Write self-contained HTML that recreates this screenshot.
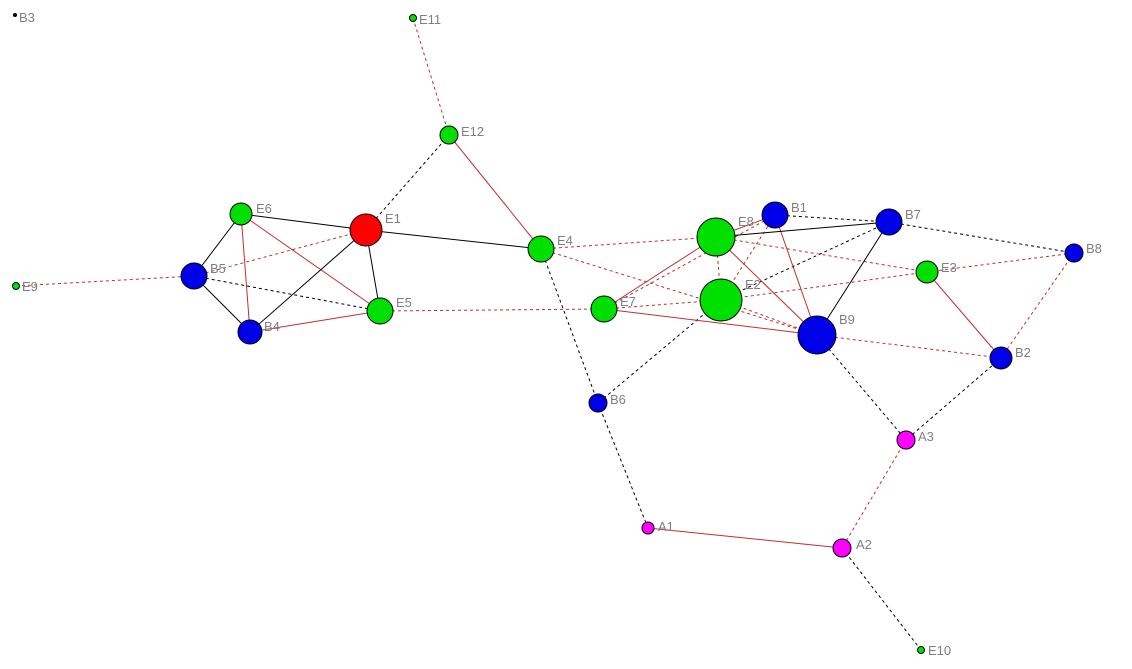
<!DOCTYPE html>
<html><head><meta charset="utf-8"><style>
html,body{margin:0;padding:0;background:#fff;width:1132px;height:669px;overflow:hidden}
text{font-family:"Liberation Sans",sans-serif;font-size:13px;fill:#808080}
</style></head><body>
<svg width="1132" height="669" xmlns="http://www.w3.org/2000/svg">
<g fill="none" stroke-width="1">
<!-- red dashed -->
<g stroke="#c03030" stroke-dasharray="3,3">
<line x1="413" y1="18" x2="449" y2="135"/>
<line x1="194" y1="276" x2="366" y2="230"/>
<line x1="16" y1="286" x2="194" y2="276"/>
<line x1="380" y1="311" x2="604" y2="309"/>
<line x1="541" y1="249" x2="716" y2="237"/>
<line x1="541" y1="249" x2="817" y2="335"/>
<line x1="604" y1="309" x2="775" y2="215"/>
<line x1="604" y1="309" x2="721" y2="300"/>
<line x1="716" y1="237" x2="721" y2="300"/>
<line x1="716" y1="237" x2="927" y2="272"/>
<line x1="721" y1="300" x2="927" y2="272"/>
<line x1="721" y1="300" x2="775" y2="215"/>
<line x1="721" y1="300" x2="817" y2="335"/>
<line x1="927" y1="272" x2="1074" y2="253"/>
<line x1="1074" y1="253" x2="1001" y2="358"/>
<line x1="817" y1="335" x2="1001" y2="358"/>
<line x1="906" y1="440" x2="842" y2="548"/>
</g>
<!-- black dashed -->
<g stroke="#000" stroke-dasharray="3,3">
<line x1="449" y1="135" x2="366" y2="230"/>
<line x1="194" y1="276" x2="380" y2="311"/>
<line x1="541" y1="249" x2="598" y2="403"/>
<line x1="721" y1="300" x2="889" y2="222"/>
<line x1="721" y1="300" x2="598" y2="403"/>
<line x1="775" y1="215" x2="889" y2="222"/>
<line x1="889" y1="222" x2="1074" y2="253"/>
<line x1="817" y1="335" x2="906" y2="440"/>
<line x1="1001" y1="358" x2="906" y2="440"/>
<line x1="598" y1="403" x2="648" y2="528"/>
<line x1="842" y1="548" x2="921" y2="650"/>
</g>
<!-- red solid -->
<g stroke="#c03030">
<line x1="449" y1="135" x2="541" y2="249"/>
<line x1="241" y1="214" x2="250" y2="332"/>
<line x1="241" y1="214" x2="380" y2="311"/>
<line x1="250" y1="332" x2="380" y2="311"/>
<line x1="604" y1="309" x2="716" y2="237"/>
<line x1="604" y1="309" x2="817" y2="335"/>
<line x1="716" y1="237" x2="775" y2="215"/>
<line x1="716" y1="237" x2="817" y2="335"/>
<line x1="775" y1="215" x2="817" y2="335"/>
<line x1="927" y1="272" x2="1001" y2="358"/>
<line x1="648" y1="528" x2="842" y2="548"/>
</g>
<!-- black solid -->
<g stroke="#000">
<line x1="241" y1="214" x2="366" y2="230"/>
<line x1="366" y1="230" x2="541" y2="249"/>
<line x1="241" y1="214" x2="194" y2="276"/>
<line x1="194" y1="276" x2="250" y2="332"/>
<line x1="250" y1="332" x2="366" y2="230"/>
<line x1="366" y1="230" x2="380" y2="311"/>
<line x1="716" y1="237" x2="889" y2="222"/>
<line x1="889" y1="222" x2="817" y2="335"/>
</g>
</g>
<g stroke="#000" stroke-width="1">
<circle cx="15" cy="15" r="1.5" fill="#000"/>
<circle cx="413" cy="18" r="3.5" fill="#00e000"/>
<circle cx="449" cy="135" r="9" fill="#00e000"/>
<circle cx="241" cy="214" r="11" fill="#00e000"/>
<circle cx="366" cy="230" r="16" fill="#ff0000"/>
<circle cx="194" cy="276" r="13" fill="#0000e8"/>
<circle cx="16" cy="286" r="3.5" fill="#00e000"/>
<circle cx="250" cy="332" r="12" fill="#0000e8"/>
<circle cx="380" cy="311" r="13" fill="#00e000"/>
<circle cx="541" cy="249" r="13" fill="#00e000"/>
<circle cx="716" cy="237" r="19" fill="#00e000"/>
<circle cx="775" cy="215" r="13" fill="#0000e8"/>
<circle cx="889" cy="222" r="13" fill="#0000e8"/>
<circle cx="1074" cy="253" r="9" fill="#0000e8"/>
<circle cx="927" cy="272" r="11" fill="#00e000"/>
<circle cx="604" cy="309" r="13" fill="#00e000"/>
<circle cx="721" cy="300" r="21" fill="#00e000"/>
<circle cx="817" cy="335" r="19" fill="#0000e8"/>
<circle cx="1001" cy="358" r="11" fill="#0000e8"/>
<circle cx="598" cy="403" r="9" fill="#0000e8"/>
<circle cx="906" cy="440" r="9" fill="#ff00ff"/>
<circle cx="648" cy="528" r="6" fill="#ff00ff"/>
<circle cx="842" cy="548" r="9" fill="#ff00ff"/>
<circle cx="921" cy="650" r="3.5" fill="#00e000"/>
</g>
<text x="19" y="22">B3</text>
<text x="419" y="24">E11</text>
<text x="461" y="136">E12</text>
<text x="256" y="213">E6</text>
<text x="385" y="223">E1</text>
<text x="210" y="273">B5</text>
<text x="22" y="291">E9</text>
<text x="264" y="331">B4</text>
<text x="396" y="307">E5</text>
<text x="557" y="245">E4</text>
<text x="738" y="226">E8</text>
<text x="791" y="212">B1</text>
<text x="905" y="219">B7</text>
<text x="1086" y="253">B8</text>
<text x="941" y="272">E3</text>
<text x="620" y="306">E7</text>
<text x="745" y="289">E2</text>
<text x="839" y="324">B9</text>
<text x="1015" y="357">B2</text>
<text x="610" y="404">B6</text>
<text x="918" y="441">A3</text>
<text x="658" y="531">A1</text>
<text x="856" y="549">A2</text>
<text x="928" y="655">E10</text>
</svg>
</body></html>
